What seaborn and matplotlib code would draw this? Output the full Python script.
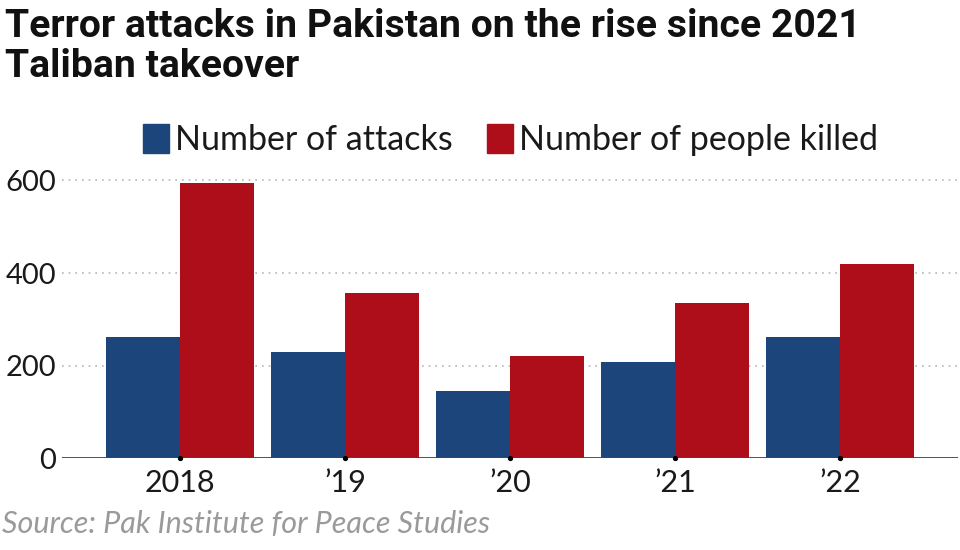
import matplotlib
matplotlib.use("Agg")
import matplotlib.pyplot as plt
import seaborn as sns
import pandas as pd
import numpy as np

# ========== data ==========
years = ["2018", "\u201919", "\u201920", "\u201921", "\u201922"]
attacks = [262, 229, 146, 207, 262]
killed = [595, 357, 220, 335, 419]
series_names = ["Number of attacks", "Number of people killed"]
colors = ["#1c467b", "#ad0e1a"]

df = pd.DataFrame({
    "year": years * 2,
    "metric": [series_names[0]] * len(years) + [series_names[1]] * len(years),
    "value": attacks + killed,
})

sns.set_theme(style="white")
plt.rcParams["font.family"] = ["Lato", "DejaVu Sans"]

fig = plt.figure(figsize=(9.6, 5.5), dpi=100)
ax = fig.add_axes([0.0646, 0.1667, 0.9334, 0.522])

sns.barplot(data=df, x="year", y="value", hue="metric", palette=colors,
            width=0.9, gap=0, saturation=1, linewidth=0, ax=ax, legend=False)

ax.set_xlim(-0.715, len(years) - 1 + 0.715)
ax.set_ylim(0, 620)
ax.set_yticks([0, 200, 400, 600])
for y in [200, 400, 600]:
    ax.axhline(y, color="#b5b5b5", lw=1.2, ls=(0, (1, 3)), zorder=0)
ax.axhline(0, color="#444444", lw=1.3, zorder=3)
# small dots marking each category on the baseline
ax.plot(np.arange(len(years)), np.zeros(len(years)), "o", color="black",
        ms=2.8, zorder=4, clip_on=False)

for s in ax.spines.values():
    s.set_visible(False)
ax.set_xlabel("")
ax.set_ylabel("")
ax.tick_params(axis="x", length=0, labelsize=22, colors="#1a1a1a", pad=8)
ax.tick_params(axis="y", length=0, labelsize=21, colors="#1a1a1a", pad=4)

# legend
handles = [plt.Rectangle((0, 0), 1, 1, color=c) for c in colors]
leg = fig.legend(handles, series_names, loc="center", bbox_to_anchor=(0.532, 0.745),
                 ncol=2, frameon=False, handlelength=0.75, handleheight=0.95,
                 handletextpad=0.2, columnspacing=1.0, fontsize=24.5)
for t in leg.get_texts():
    t.set_color("#1a1a1a")

# title + source
fig.text(0.005, 0.985, "Terror attacks in Pakistan on the rise since 2021\nTaliban takeover",
         ha="left", va="top", fontsize=28.2, fontweight="bold", color="#111111",
         linespacing=1.1, family=["Roboto", "DejaVu Sans"])
fig.text(0.002, 0.022, "Source: Pak Institute for Peace Studies", ha="left", va="bottom",
         fontsize=22, style="italic", color="#9a9a9a")

fig.savefig("out.png", dpi=100)
